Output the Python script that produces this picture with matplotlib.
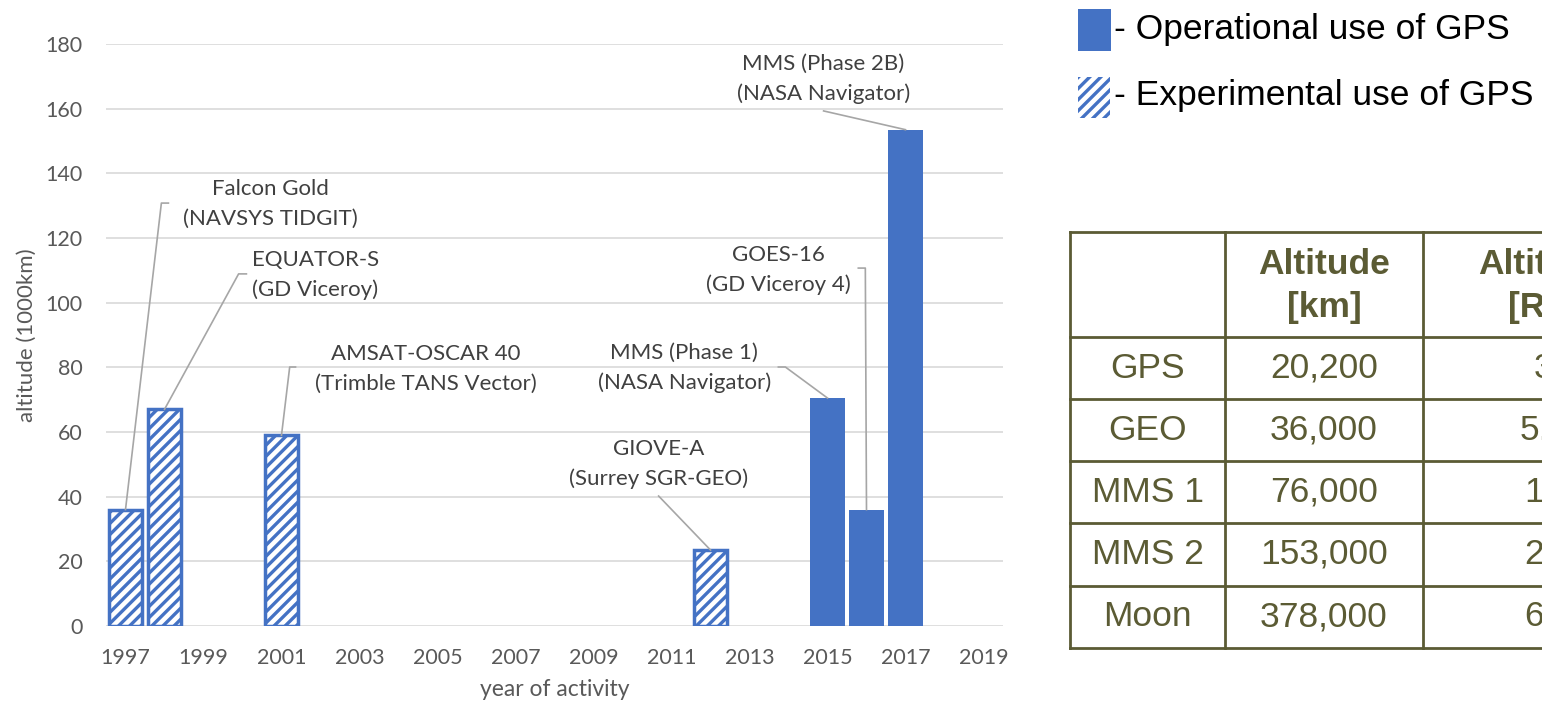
import matplotlib
matplotlib.use("Agg")
import matplotlib.pyplot as plt
from matplotlib.patches import Rectangle

# --- data ---------------------------------------------------------------
years = list(range(1997, 2020))
bar_years = [1997, 1998, 2001, 2012, 2015, 2016, 2017]
altitudes = [36, 67, 59, 23.5, 70.5, 36, 153.5]          # 1000 km
experimental = [True, True, True, True, False, False, False]
missions = [
    "Falcon Gold\n(NAVSYS TIDGIT)",
    "EQUATOR-S\n(GD Viceroy)",
    "AMSAT-OSCAR 40\n(Trimble TANS Vector)",
    "GIOVE-A\n(Surrey SGR-GEO)",
    "MMS (Phase 1)\n(NASA Navigator)",
    "GOES-16\n(GD Viceroy 4)",
    "MMS (Phase 2B)\n(NASA Navigator)",
]

table_rows = ["GPS", "GEO", "MMS 1", "MMS 2", "Moon"]
table_km = ["20,200", "36,000", "76,000", "153,000", "378,000"]
table_re = ["3", "5.7", "12", "24", "60"]

# label layout: text centre (x index, y) and leader start / elbow
label_xy = [(3.72, 130.5), (4.87, 108.6), (7.69, 79.5), (13.67, 50.1),
            (14.33, 79.8), (16.74, 110.1), (17.9, 169.2)]
leader_start = [(1.10, 130.8), (3.10, 108.9), (4.36, 80.1), (13.67, 40.2),
                (16.74, 80.1), (18.79, 110.7), (17.9, 159.3)]
leader_elbow = [0.92, 2.90, 4.21, None, 16.92, 18.97, None]

BLUE = "#4472C4"
GRID = "#d9d9d9"
TICK = "#595959"
OLIVE = "#5b5b34"

plt.rcParams["hatch.linewidth"] = 2.4
chart_font = ["Lato", "DejaVu Sans"]
arial = ["Liberation Sans", "DejaVu Sans"]

fig = plt.figure(figsize=(15.42, 7.05), dpi=100)
ax = fig.add_axes([106 / 1542, 1 - 626 / 705, 897 / 1542, 582 / 705])

idx = [years.index(y) for y in bar_years]
for i, val, exp in zip(idx, altitudes, experimental):
    if exp:
        ax.bar(i, val, width=0.86, facecolor="white", edgecolor=BLUE,
               linewidth=2.5, hatch="///", zorder=3)
    else:
        ax.bar(i, val, width=0.9, color=BLUE, edgecolor="none", zorder=3)

# leader lines + labels
for k, (i, val) in enumerate(zip(idx, altitudes)):
    sx, sy = leader_start[k]
    xs, ys = [sx], [sy]
    if leader_elbow[k] is not None:
        xs.append(leader_elbow[k])
        ys.append(sy)
    xs.append(i)
    ys.append(val)
    ax.plot(xs, ys, color="#a6a6a6", linewidth=1.2, zorder=4)
    tx, ty = label_xy[k]
    ax.text(tx, ty, missions[k], ha="center", va="center", fontsize=16,
            color="#404040", family=chart_font, linespacing=1.6, zorder=5)

ax.set_xlim(-0.5, len(years) - 0.5)
ax.set_ylim(0, 180)
ax.set_yticks(range(0, 181, 20))
ax.set_xticks(range(0, len(years), 2))
ax.set_xticklabels([str(y) for y in years[::2]])
ax.grid(axis="y", color=GRID, linewidth=1.2, zorder=0)
for s in ax.spines.values():
    s.set_visible(False)
ax.tick_params(length=0, labelsize=15.5, labelcolor=TICK)
ax.tick_params(axis="y", pad=17)
ax.tick_params(axis="x", pad=16)
for lab in ax.get_xticklabels() + ax.get_yticklabels():
    lab.set_family(chart_font)
ax.set_xlabel("year of activity", fontsize=16.5, color=TICK, family=chart_font,
              labelpad=8)
ax.set_ylabel("altitude (1000km)", fontsize=16, color=TICK, family=chart_font,
              labelpad=6)

# --- overlay in pixel coordinates for legend and table ---------------------
ov = fig.add_axes([0, 0, 1, 1])
ov.set_xlim(0, 1542)
ov.set_ylim(705, 0)
ov.axis("off")

ov.add_patch(Rectangle((1078, 9), 33, 42, facecolor=BLUE, edgecolor="none"))
ov.text(1114, 30, "- Operational use of GPS", fontsize=25.5, family=arial,
        va="center", ha="left", color="black")
ov.add_patch(Rectangle((1078, 77), 32, 41, facecolor="white", edgecolor=BLUE,
                       linewidth=0, hatch="///"))
ov.text(1114, 95, "- Experimental use of GPS", fontsize=25.5, family=arial,
        va="center", ha="left", color="black")

row_lines = [232, 337, 399, 461, 523, 586, 648]
col_lines = [1070, 1225, 1423, 1665]
for y in row_lines:
    ov.plot([1070, 1670], [y, y], color=OLIVE, linewidth=2, clip_on=False)
for x in col_lines:
    ov.plot([x, x], [232, 648], color=OLIVE, linewidth=2, clip_on=False)

centers = [(col_lines[c] + col_lines[c + 1]) / 2 for c in range(3)]
for c, head in [(1, "Altitude\n[km]"), (2, "Altitude\n[RE]")]:
    ov.text(centers[c], 286, head, ha="center", va="center",
            fontsize=25.5, fontweight="bold", family=arial, color=OLIVE,
            linespacing=1.4)
for r, (name, km, re) in enumerate(zip(table_rows, table_km, table_re)):
    yc = (row_lines[r + 1] + row_lines[r + 2]) / 2
    for c, txt in enumerate([name, km, re]):
        ov.text(centers[c], yc, txt, ha="center", va="center", fontsize=25.5,
                family=arial, color=OLIVE)

fig.savefig("out.png", dpi=100)
